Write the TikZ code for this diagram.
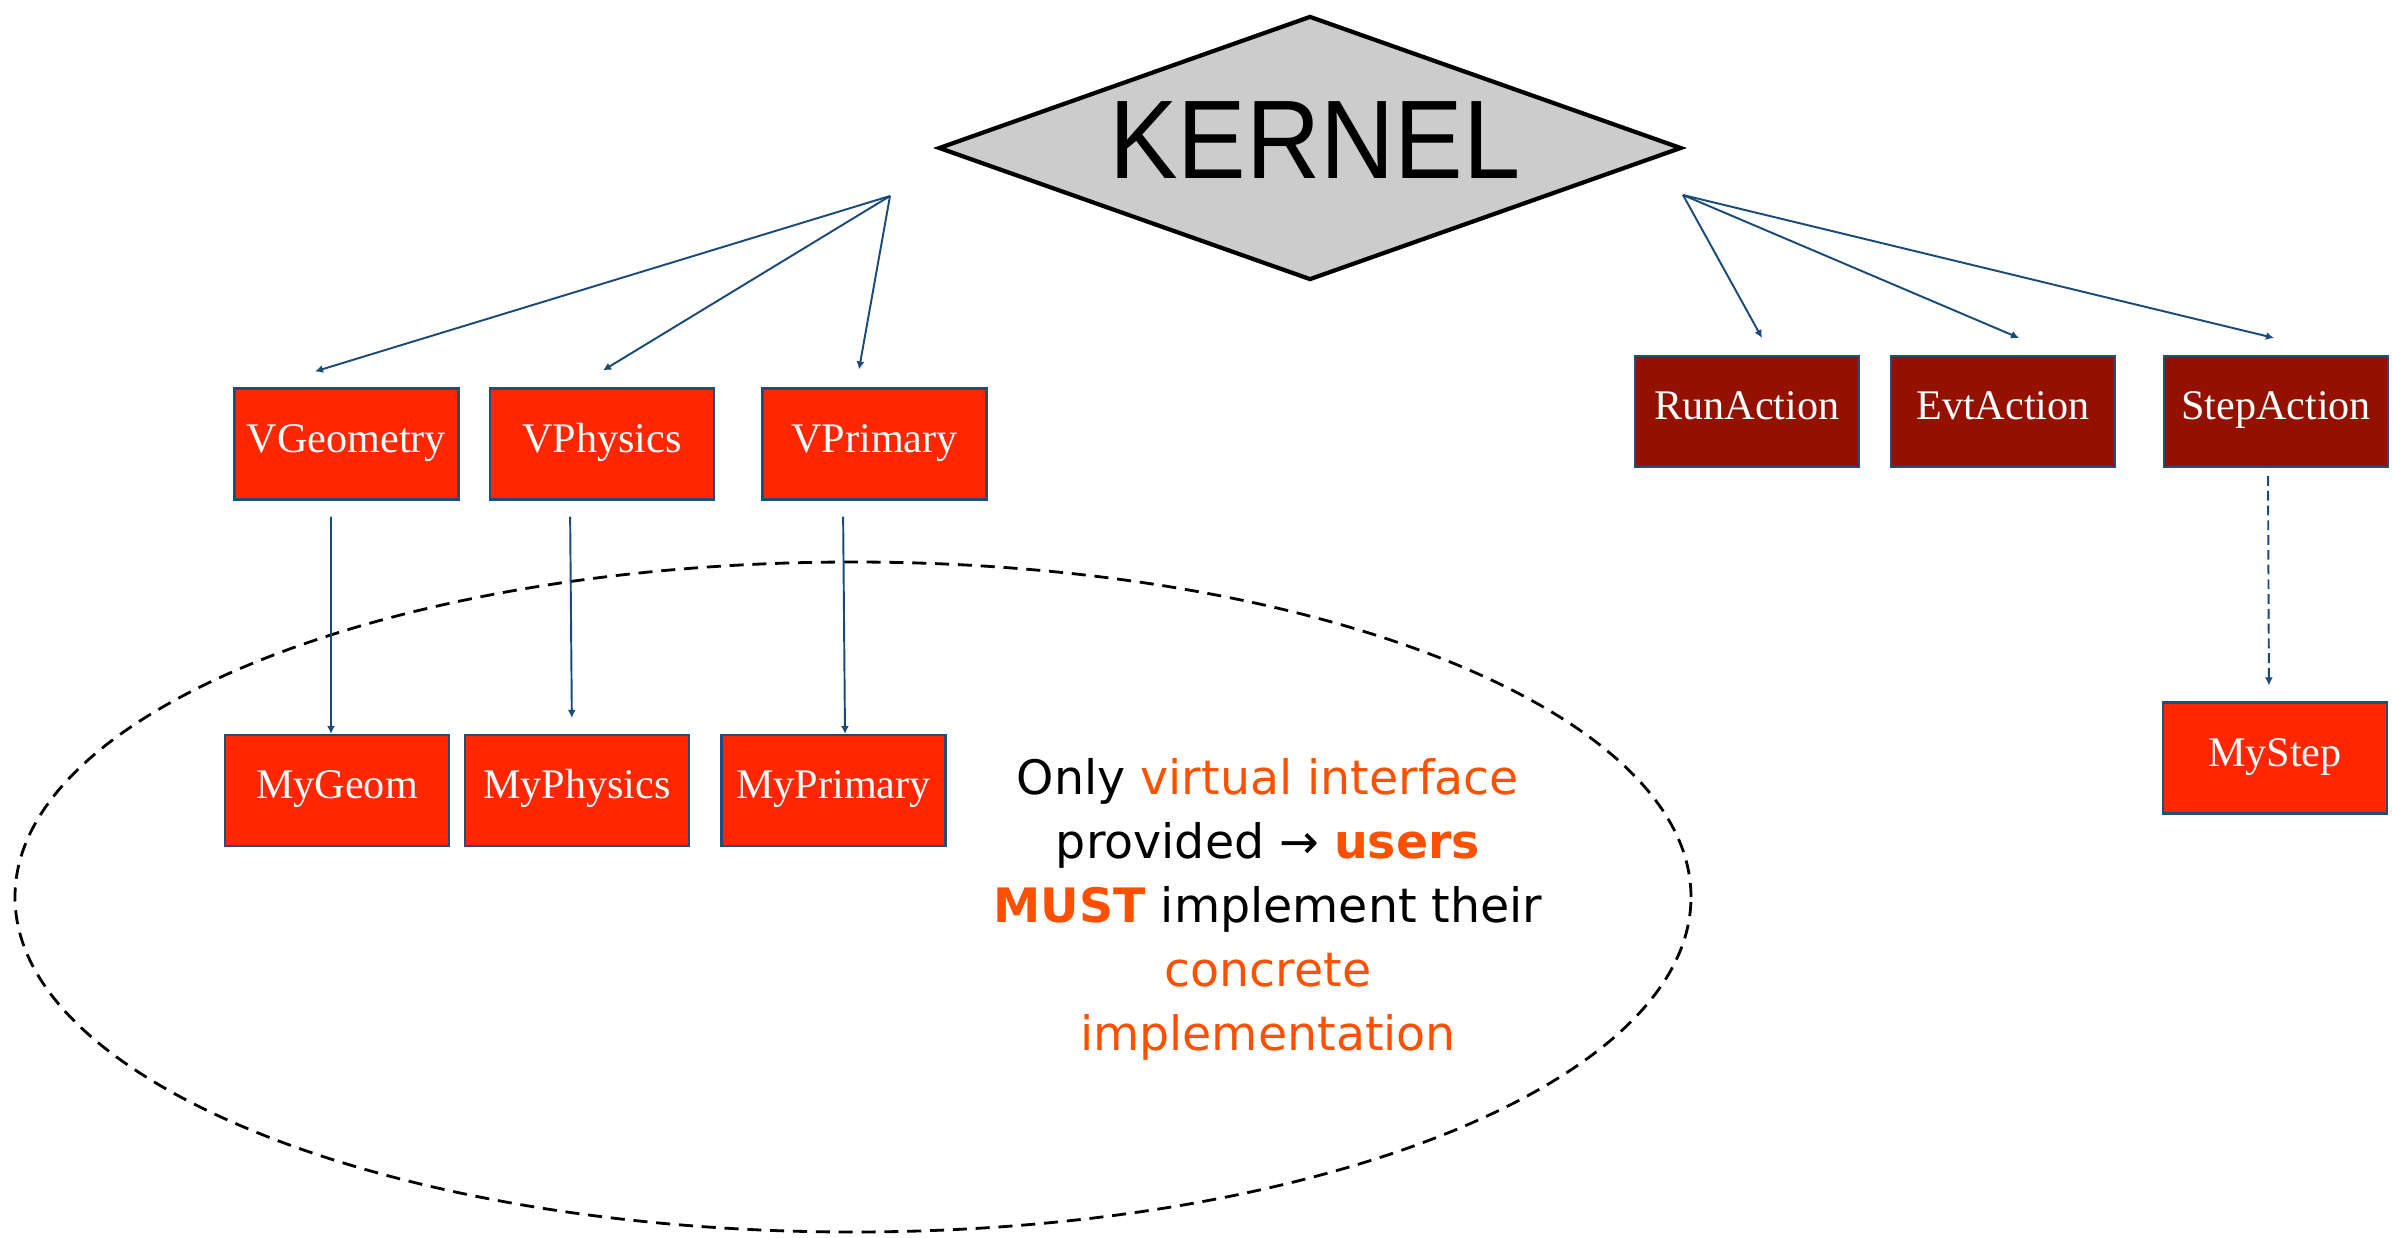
\documentclass[tikz,border=0pt]{standalone}
\usepackage{fontspec}
\setmainfont{Liberation Serif}
\newfontfamily\kernfont{Liberation Sans}
\newfontfamily\notefont{DejaVu Sans}
\usepackage{graphicx}
\usepackage{tikz}
\usetikzlibrary{arrows.meta, shapes.geometric, positioning}

\definecolor{boxred}{RGB}{255,38,0}
\definecolor{boxdark}{RGB}{148,17,0}
\definecolor{edgeblue}{RGB}{31,78,121}
\definecolor{arrowblue}{RGB}{24,74,122}
\definecolor{accent}{RGB}{255,80,0}
\definecolor{kerngray}{RGB}{204,204,204}

\begin{document}
\begin{tikzpicture}[node distance = 3.465cm]
\tikzstyle{kern_box}=[diamond, draw=black, fill=kerngray, line width=1.2pt, inner sep=0pt, minimum width=7.43cm, minimum height=2.64cm]
\tikzstyle{virt_box}=[rectangle, fill=boxred, draw=edgeblue, line width=0.6pt, minimum width=2.24cm, minimum height=1.11cm, text=white, text height=0.7em, text depth=0.22em, font=\fontsize{12}{14}\selectfont]
\tikzstyle{act_box}=[virt_box, fill=boxdark]
\tikzstyle{inherit_arrow}=[draw=arrowblue, line width=0.55pt, -{Latex[length=0.8mm, width=0.8mm]}]
\tikzstyle{hook_arrow}=[inherit_arrow, dash pattern=on 2.8pt off 1.4pt]
\tikzstyle{user_scope}=[ellipse, draw=black, line width=0.8pt, dash pattern=on 4pt off 2.5pt, minimum width=16.76cm, minimum height=6.7cm, inner sep=0pt]
%
\useasboundingbox (0,0) rectangle (23.92,-12.38);

\node [user_scope] (impl) at (8.53,-8.97) {};

\node [kern_box, label={[font=\kernfont\fontsize{31.8}{34}\selectfont, xshift=0.05cm, yshift=0.08cm]center:\scalebox{0.92}[1]{KERNEL}}] (kernel) at (13.10,-1.48) {};
\coordinate (kl) at (8.90,-1.96);
\coordinate (kr) at (16.83,-1.95);

% virtual interfaces
\node [virt_box] (vgeo) at (3.465,-4.44) {VGeometry};
\node [virt_box] (vphys) at (6.02,-4.44) {VPhysics};
\node [virt_box] (vprim) at (8.745,-4.44) {VPrimary};

% user actions
\node [act_box] (runact) at (17.47,-4.115) {RunAction};
\node [act_box] (evtact) at (20.03,-4.115) {EvtAction};
\node [act_box] (stepact) at (22.76,-4.115) {StepAction};

% concrete classes
\node [virt_box] (mygeom) [below of=vgeo, xshift=-0.095cm] {MyGeom};
\node [virt_box] (myphys) [below of=vphys, xshift=-0.25cm] {MyPhysics};
\node [virt_box] (myprim) [below of=vprim, xshift=-0.41cm] {MyPrimary};
\node [virt_box] (mystep) [below of=stepact, xshift=-0.01cm] {MyStep};

\draw [inherit_arrow] (kl) -- ([shift={(-0.315,0.16)}]vgeo.north);
\draw [inherit_arrow] (kl) -- ([shift={(0.01,0.17)}]vphys.north);
\draw [inherit_arrow] (kl) -- ([shift={(-0.155,0.18)}]vprim.north);
\draw [inherit_arrow] (kr) -- ([shift={(0.15,0.17)}]runact.north);
\draw [inherit_arrow] (kr) -- ([shift={(0.16,0.17)}]evtact.north);
\draw [inherit_arrow] (kr) -- ([shift={(-0.02,0.17)}]stepact.north);

\draw [inherit_arrow, shorten <=1.6mm] ([xshift=-1.55mm]vgeo.south) -- ([xshift=-0.6mm]mygeom.north);
\draw [inherit_arrow, shorten <=1.6mm, shorten >=1.6mm] ([xshift=-3.2mm]vphys.south) -- ([xshift=-0.5mm]myphys.north);
\draw [inherit_arrow, shorten <=1.6mm] ([xshift=-3.15mm]vprim.south) -- ([xshift=1.15mm]myprim.north);
\draw [hook_arrow, shorten <=0.8mm, shorten >=1.6mm] ([xshift=-0.8mm]stepact.south) -- ([xshift=-0.6mm]mystep.north);

\node [align=center, inner sep=0pt, font=\notefont\fontsize{13.5}{18.2}\selectfont] (note) at (12.68,-9.095)
	{Only \textcolor{accent}{virtual interface}\\
	provided → \textcolor{accent}{\textbf{users}}\\
	\textcolor{accent}{\textbf{MUST}} implement their\\
	\textcolor{accent}{concrete}\\
	\textcolor{accent}{implementation}};
%
\end{tikzpicture}
\end{document}
